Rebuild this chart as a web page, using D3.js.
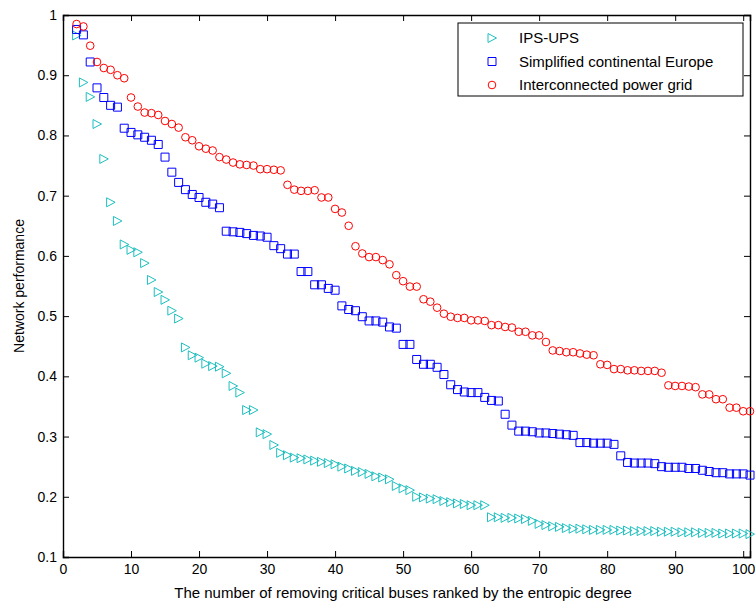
<!DOCTYPE html>
<html>
<head>
<meta charset="utf-8">
<script src="https://cdn.jsdelivr.net/npm/d3@7"></script>
<style>
  body { margin: 0; background: #fff; }
  svg { display: block; font-family: "Liberation Sans", Arial, sans-serif; }
</style>
</head>
<body>
<svg id="chart" width="755" height="605"></svg>
<script>
// x positions: number of removed buses, 2..101
const removed = d3.range(2, 102);

const ipsUps = [
    0.966, 0.888, 0.864, 0.819, 0.761, 0.689, 0.658, 0.619, 0.610, 0.606,
    0.588, 0.560, 0.540, 0.527, 0.509, 0.496, 0.448, 0.435, 0.431, 0.421,
    0.417, 0.416, 0.405, 0.384, 0.373, 0.344, 0.344, 0.307, 0.304, 0.286,
    0.273, 0.269, 0.265, 0.264, 0.262, 0.260, 0.258, 0.256, 0.254, 0.250,
    0.247, 0.243, 0.241, 0.238, 0.234, 0.232, 0.229, 0.218, 0.214, 0.211,
    0.200, 0.199, 0.197, 0.196, 0.193, 0.191, 0.189, 0.188, 0.186, 0.186,
    0.186, 0.166, 0.166, 0.165, 0.165, 0.164, 0.163, 0.160, 0.155, 0.153,
    0.151, 0.150, 0.148, 0.147, 0.147, 0.146, 0.145, 0.145, 0.145, 0.145,
    0.144, 0.144, 0.143, 0.143, 0.143, 0.143, 0.142, 0.142, 0.142, 0.141,
    0.141, 0.141, 0.140, 0.140, 0.140, 0.139, 0.139, 0.139, 0.139, 0.138
];

const continentalEurope = [
    0.976, 0.967, 0.922, 0.879, 0.863, 0.850, 0.847, 0.812, 0.805, 0.801,
    0.797, 0.792, 0.785, 0.764, 0.739, 0.722, 0.710, 0.702, 0.697, 0.689,
    0.686, 0.680, 0.641, 0.640, 0.639, 0.637, 0.634, 0.633, 0.631, 0.617,
    0.612, 0.603, 0.603, 0.574, 0.574, 0.552, 0.552, 0.546, 0.543, 0.517,
    0.511, 0.509, 0.499, 0.492, 0.492, 0.490, 0.482, 0.480, 0.453, 0.453,
    0.428, 0.420, 0.420, 0.415, 0.403, 0.386, 0.378, 0.374, 0.373, 0.373,
    0.365, 0.360, 0.359, 0.337, 0.319, 0.309, 0.309, 0.308, 0.306, 0.306,
    0.305, 0.304, 0.303, 0.302, 0.290, 0.290, 0.289, 0.289, 0.289, 0.287,
    0.268, 0.257, 0.256, 0.256, 0.256, 0.255, 0.250, 0.249, 0.249, 0.249,
    0.247, 0.247, 0.244, 0.242, 0.240, 0.240, 0.238, 0.238, 0.238, 0.236
];

const interconnectedGrid = [
    0.985, 0.981, 0.949, 0.922, 0.912, 0.909, 0.900, 0.895, 0.863, 0.848,
    0.838, 0.837, 0.834, 0.824, 0.819, 0.813, 0.797, 0.792, 0.782, 0.778,
    0.775, 0.764, 0.760, 0.755, 0.752, 0.751, 0.750, 0.744, 0.744, 0.743,
    0.742, 0.718, 0.710, 0.708, 0.708, 0.709, 0.697, 0.697, 0.678, 0.672,
    0.650, 0.616, 0.604, 0.598, 0.598, 0.593, 0.586, 0.568, 0.558, 0.549,
    0.549, 0.528, 0.524, 0.514, 0.504, 0.499, 0.497, 0.497, 0.493, 0.493,
    0.492, 0.485, 0.485, 0.482, 0.481, 0.474, 0.474, 0.468, 0.468, 0.457,
    0.443, 0.442, 0.440, 0.440, 0.438, 0.436, 0.435, 0.420, 0.419, 0.412,
    0.412, 0.410, 0.410, 0.409, 0.409, 0.409, 0.406, 0.385, 0.384, 0.384,
    0.383, 0.382, 0.370, 0.370, 0.362, 0.362, 0.348, 0.348, 0.342, 0.342
];

const seriesNames = ['IPS-UPS', 'Simplified continental Europe', 'Interconnected power grid'];
const xTicks = d3.range(0, 101, 10);
const yTicks = [0.1, 0.2, 0.3, 0.4, 0.5, 0.6, 0.7, 0.8, 0.9, 1];

const margin = { top: 15, right: 5, bottom: 48, left: 63 };
const width = 755 - margin.left - margin.right;
const height = 605 - margin.top - margin.bottom;

const svg = d3.select('#chart');
const g = svg.append('g').attr('transform', `translate(${margin.left},${margin.top})`);

const x = d3.scaleLinear().domain([0, 101]).range([0, width]);
const y = d3.scaleLinear().domain([0.1, 1]).range([height, 0]);

// marker shapes, relative to the data point
const markers = [
    { color: '#1dbfbf', path: 'M-4,-4.5L4.5,0L-4,4.5Z' },
    { color: '#0000ff', path: 'M-4,-4L4,-4L4,4L-4,4Z' },
    { color: '#ff0000', path: d3.symbol(d3.symbolCircle, 46)() },
];
const seriesValues = [ipsUps, continentalEurope, interconnectedGrid];

// axes: ticks drawn inward on all four sides
const tickLen = 6;
const axisBottom = d3.axisBottom(x).tickValues(xTicks).tickSize(-tickLen).tickPadding(7);
const axisLeft = d3.axisLeft(y).tickValues(yTicks).tickSize(-tickLen).tickPadding(6)
    .tickFormat((d) => (d === 1 ? '1' : d3.format('.1f')(d)));
const axisTop = d3.axisTop(x).tickValues(xTicks).tickSize(-tickLen).tickFormat('');
const axisRight = d3.axisRight(y).tickValues(yTicks).tickSize(-tickLen).tickFormat('');

function styleAxis(sel)
{
    sel.selectAll('path.domain').attr('stroke', '#000').attr('stroke-width', 1.4);
    sel.selectAll('.tick line').attr('stroke', '#000').attr('stroke-width', 1);
    sel.selectAll('.tick text').attr('fill', '#000').style('font-size', '14px')
        .style('font-family', '"Liberation Sans", Arial, sans-serif');
}

g.append('g').attr('transform', `translate(0,${height})`).call(axisBottom).call(styleAxis);
g.append('g').call(axisLeft).call(styleAxis);
g.append('g').call(axisTop).call(styleAxis);
g.append('g').attr('transform', `translate(${width},0)`).call(axisRight).call(styleAxis);

// data markers
seriesValues.forEach((values, i) =>
{
    g.append('g')
        .selectAll('path')
        .data(values)
        .join('path')
        .attr('transform', (d, k) => `translate(${x(removed[k])},${y(d)})`)
        .attr('d', markers[i].path)
        .attr('fill', 'none')
        .attr('stroke', markers[i].color)
        .attr('stroke-width', 1);
});

// axis titles
svg.append('text')
    .attr('x', margin.left + x(50))
    .attr('y', 598)
    .attr('text-anchor', 'middle')
    .style('font-size', '15px')
    .text('The number of removing critical buses ranked by the entropic degree');

svg.append('text')
    .attr('transform', `translate(24,${margin.top + height / 2}) rotate(-90)`)
    .attr('text-anchor', 'middle')
    .style('font-size', '14px')
    .text('Network performance');

// legend
const legend = svg.append('g').attr('transform', 'translate(458,23)');
legend.append('rect')
    .attr('width', 285)
    .attr('height', 73)
    .attr('fill', '#fff')
    .attr('stroke', '#000')
    .attr('stroke-width', 1);

seriesNames.forEach((name, i) =>
{
    const row = legend.append('g').attr('transform', `translate(0,${15 + i * 23.5})`);
    row.append('path')
        .attr('transform', 'translate(34,0)')
        .attr('d', markers[i].path)
        .attr('fill', 'none')
        .attr('stroke', markers[i].color);
    row.append('text')
        .attr('x', 61)
        .attr('y', 5)
        .style('font-size', '15px')
        .text(name);
});
</script>
</body>
</html>
